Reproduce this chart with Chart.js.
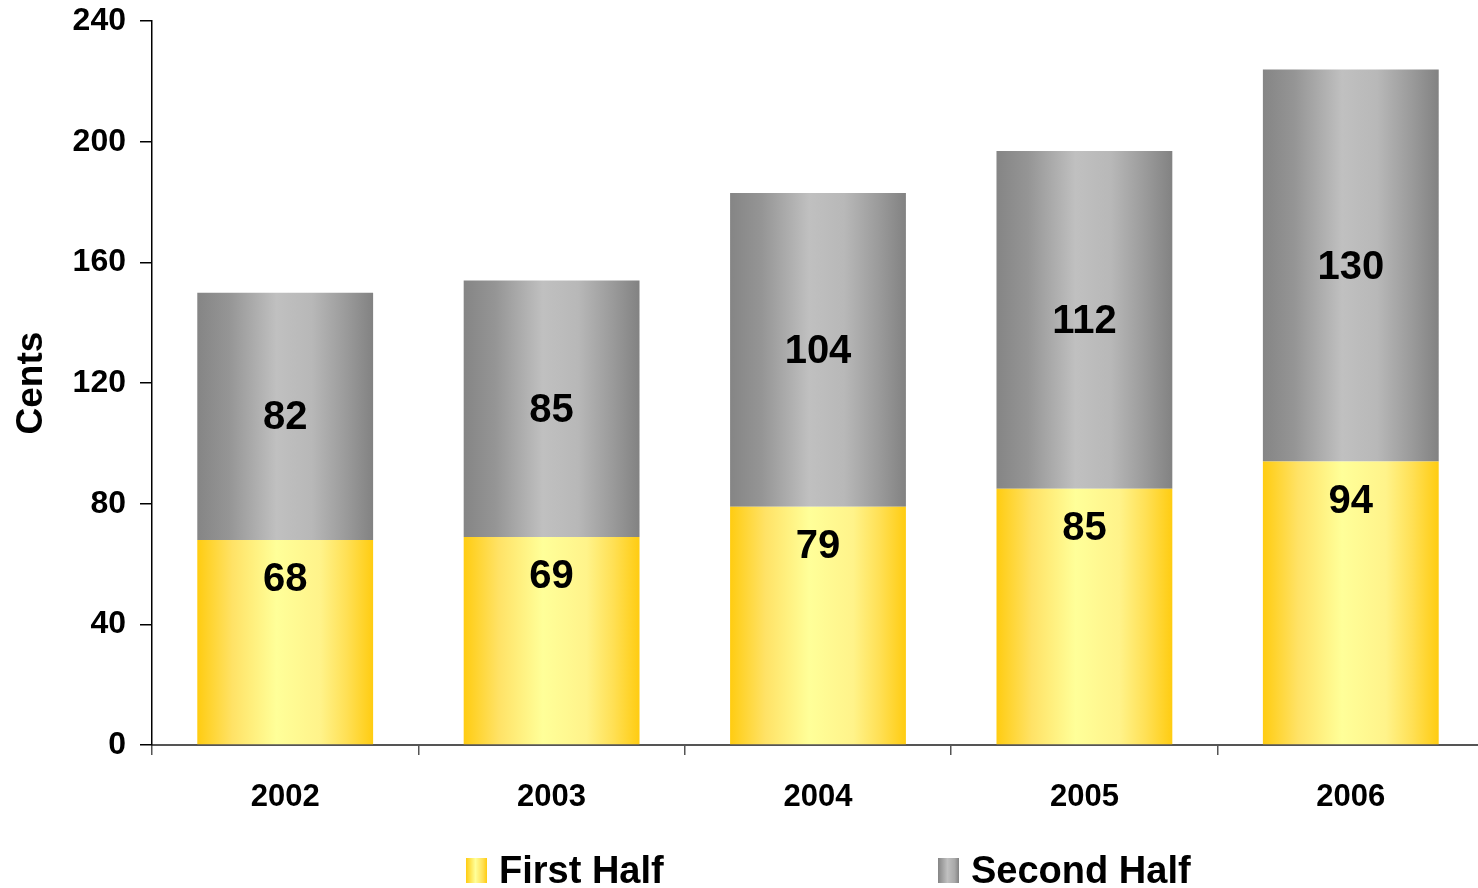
<!DOCTYPE html>
<html>
<head>
<meta charset="utf-8">
<script src="https://cdn.jsdelivr.net/npm/chart.js@4"></script>
<style>
  html, body { margin: 0; padding: 0; background: #fff; }
  #wrap { position: relative; width: 1478px; height: 888px; overflow: hidden; }
  #legend { position: absolute; top: 849px; left: 0; width: 1478px; height: 44px;
    font: bold 38px "Liberation Sans", Arial, sans-serif; color: #000; }
  .item { position: absolute; top: 0; display: flex; align-items: center; }
  .box { width: 21px; height: 25px; margin-right: 12px; }
</style>
</head>
<body>
<div id="wrap">
  <canvas id="myChart" width="1478" height="888"></canvas>
  <div id="legend">
    <div class="item" style="left:466px"><div class="box" style="background:linear-gradient(90deg,#ffcc11,#ffff99 45%,#ffe055 80%,#ffcc11)"></div>First Half</div>
    <div class="item" style="left:938px"><div class="box" style="background:linear-gradient(90deg,#858585,#c0c0c0 45%,#a8a8a8 80%,#828282)"></div>Second Half</div>
  </div>
</div>
<script>
const years = ['2002', '2003', '2004', '2005', '2006'];
const firstHalf = [68, 69, 79, 85, 94];
const secondHalf = [82, 85, 104, 112, 130];
const yTicks = [0, 40, 80, 120, 160, 200, 240];

const FONT = '"Liberation Sans", Arial, sans-serif';

const yellowStops = [[0, '#ffcc11'], [0.2, '#ffe266'], [0.45, '#ffff99'], [0.7, '#fff38a'], [0.85, '#ffe055'], [1, '#ffcc11']];
const grayStops = [[0, '#858585'], [0.18, '#959595'], [0.45, '#c0c0c0'], [0.65, '#b8b8b8'], [0.85, '#9a9a9a'], [1, '#828282']];

function shade(el, stops, ctx) {
  const g = ctx.createLinearGradient(el.x - el.width / 2, 0, el.x + el.width / 2, 0);
  stops.forEach(s => g.addColorStop(s[0], s[1]));
  return g;
}

// the original plot runs a few pixels past the right edge of the picture
const stretchX = {
  id: 'stretchX',
  afterLayout(chart) {
    const x = chart.scales.x;
    x.right += 6;
    x.width += 6;
    chart.chartArea.right += 6;
    chart.chartArea.width += 6;
    x.configure();
  }
};

// scriptable colour keeps each bar's options separate; the plugin fills in the gradient
const barShading = {
  id: 'barShading',
  beforeDatasetsDraw(chart) {
    chart.data.datasets.forEach((ds, di) => {
      const stops = di === 0 ? yellowStops : grayStops;
      chart.getDatasetMeta(di).data.forEach(el => {
        el.options = Object.assign({}, el.options, { backgroundColor: shade(el, stops, chart.ctx) });
      });
    });
  }
};

const valueLabels = {
  id: 'valueLabels',
  afterDatasetsDraw(chart) {
    const c = chart.ctx;
    c.save();
    c.font = 'bold 40px ' + FONT;
    c.fillStyle = '#000';
    c.textAlign = 'center';
    c.textBaseline = 'middle';
    chart.data.datasets.forEach((ds, di) => {
      chart.getDatasetMeta(di).data.forEach((el, i) => {
        const y = di === 0 ? el.y + 40 : (el.y + el.base) / 2 + 2;
        c.fillText(String(ds.data[i]), el.x, y);
      });
    });
    c.restore();
  }
};

new Chart(document.getElementById('myChart'), {
  type: 'bar',
  data: {
    labels: years,
    datasets: [
      { label: 'First Half', data: firstHalf, backgroundColor: () => '#ffdd55' },
      { label: 'Second Half', data: secondHalf, backgroundColor: () => '#aaaaaa' }
    ]
  },
  options: {
    responsive: false,
    animation: false,
    layout: { padding: 0 },
    datasets: { bar: { barPercentage: 0.66, categoryPercentage: 1 } },
    plugins: { legend: { display: false }, tooltip: { enabled: false } },
    scales: {
      x: {
        stacked: true,
        border: { color: '#555', width: 2 },
        grid: { drawOnChartArea: false, offset: true, tickLength: 10, color: '#555', lineWidth: 1.5 },
        ticks: { color: '#000', padding: 24, font: { family: FONT, size: 31, weight: 'bold' } },
        afterFit: s => { s.height = 143; }
      },
      y: {
        stacked: true,
        min: 0,
        max: 240,
        afterBuildTicks: s => { s.ticks = yTicks.map(v => ({ value: v })); },
        border: { color: '#000', width: 1.5 },
        grid: { drawOnChartArea: false, tickLength: 12, color: '#000', lineWidth: 1.5 },
        ticks: { color: '#000', padding: 14, font: { family: FONT, size: 32, weight: 'bold', lineHeight: 0.45 } },
        title: { display: true, text: 'Cents', color: '#000', padding: { top: 10, bottom: 14 }, font: { family: FONT, size: 37, weight: 'bold' } },
        afterFit: s => { s.width = 152; }
      }
    }
  },
  plugins: [stretchX, barShading, valueLabels]
});
</script>
</body>
</html>
